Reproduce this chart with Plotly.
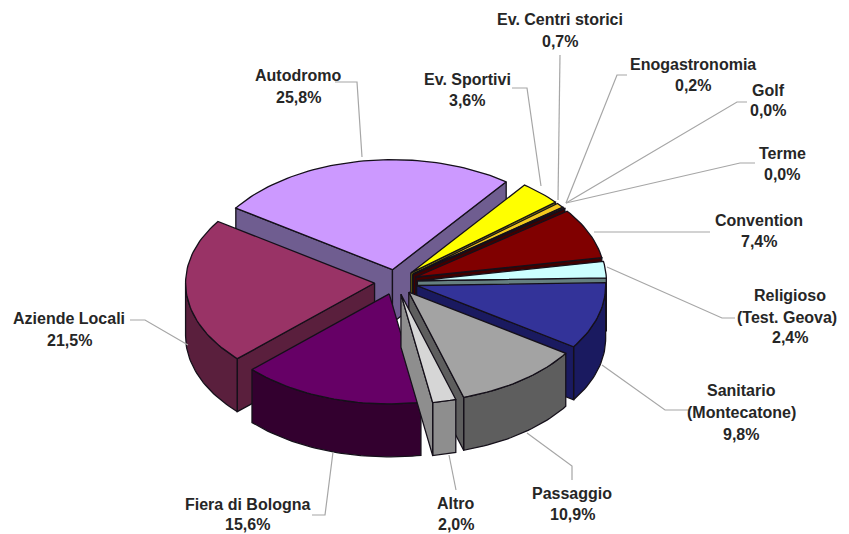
import numpy as np
import plotly.graph_objects as go

# Data
names = ["Ev. Sportivi", "Ev. Centri storici", "Enogastronomia", "Golf", "Terme", "Convention",
         "Religioso (Test. Geova)", "Sanitario (Montecatone)", "Passaggio", "Altro",
         "Fiera di Bologna", "Aziende Locali", "Autodromo"]
values = [3.6, 0.7, 0.2, 0.0, 0.0, 7.4, 2.4, 9.8, 10.9, 2.0, 15.6, 21.5, 25.8]

# Style per slice
top_colors = ["#FFFF00", "#F2C81E", "#6E3A10", "#800000", "#800000", "#800000", "#CCFFFF",
              "#333399", "#A3A3A3", "#D6D6D6", "#660066", "#993366", "#CC99FF"]
side_colors = ["#808000", "#806600", "#3A1E08", "#400000", "#400000", "#400000", "#668080",
               "#1A1A60", "#5E5E5E", "#8E8E8E", "#33002F", "#5A1F3D", "#6F5D90"]
paint_order = [12, 0, 1, 2, 3, 4, 5, 6, 7, 11, 10, 8, 9]

# Projection of the pie
cx, cy, rx, ry, depth, explode = 396, 282, 189, 110, 53, 21.5
start_deg = 37.0

fig = go.Figure()


def add_poly(xs, ys, color, lw=1.3):
    fig.add_trace(go.Scatter(x=xs, y=ys, mode="lines", fill="toself", fillcolor=color,
                             line=dict(color="#15101A", width=lw), hoverinfo="skip", showlegend=False))


total = sum(values)
bounds = start_deg + np.cumsum([0] + values) / total * 360
for i in paint_order:
    b0, b1 = bounds[i], bounds[i + 1]
    a0, a1 = np.radians(b0), np.radians(b1)
    mid = (a0 + a1) / 2
    ax = cx + explode * np.sin(mid)
    ay = cy - explode * np.cos(mid) * ry / rx
    # rim, only where it faces the viewer
    lo, hi = max(b0, 90), min(b1, 270)
    if hi > lo:
        t = np.radians(np.linspace(lo, hi, max(2, int((hi - lo) * 0.8))))
        ex = ax + rx * np.sin(t)
        ey = ay - ry * np.cos(t)
        add_poly(list(ex) + list(ex[::-1]) + [ex[0]],
                 list(ey) + list(ey[::-1] + depth) + [ey[0]], side_colors[i])
    # inner walls, only where they face the viewer
    for a, visible in ((a0, np.sin(a0) < 0), (a1, np.sin(a1) > 0)):
        if visible:
            px, py = ax + rx * np.sin(a), ay - ry * np.cos(a)
            add_poly([ax, px, px, ax, ax], [ay, py, py + depth, ay + depth, ay], side_colors[i])
    # top
    t = np.linspace(a0, a1, max(2, int((a1 - a0) * 40)))
    ex = ax + rx * np.sin(t)
    ey = ay - ry * np.cos(t)
    add_poly([ax] + list(ex) + [ax], [ay] + list(ey) + [ay], top_colors[i])

# Leader lines
leaders = [
    ([335, 357, 362], [82, 82, 157]),
    ([512, 527, 541], [88, 88, 186]),
    ([560, 558], [55, 200]),
    ([627, 617, 566], [75, 75, 203]),
    ([747, 737, 566], [102, 102, 203]),
    ([755, 740, 566], [163, 163, 203]),
    ([710, 594], [232, 232]),
    ([735, 722, 607], [318, 318, 267]),
    ([690, 665, 602], [410, 410, 365]),
    ([572, 572, 527], [480, 466, 433]),
    ([456, 449], [490, 455]),
    ([312, 325, 333], [515, 515, 452]),
    ([130, 145, 188], [320, 320, 345]),
]
for lx, ly in leaders:
    fig.add_trace(go.Scatter(x=lx, y=ly, mode="lines", line=dict(color="#A6A6A6", width=1.2),
                             hoverinfo="skip", showlegend=False))

# Text
labels = [
    ("Ev. Centri storici", 560, 19), ("0,7%", 560, 41),
    ("Enogastronomia", 693, 64), ("0,2%", 693, 85),
    ("Golf", 768, 90), ("0,0%", 768, 110),
    ("Terme", 782, 153), ("0,0%", 782, 174),
    ("Convention", 759, 220), ("7,4%", 759, 241),
    ("Religioso", 790, 295), ("(Test. Geova)", 787, 317), ("2,4%", 790, 337),
    ("Sanitario", 741, 390), ("(Montecatone)", 741, 412), ("9,8%", 741, 434),
    ("Passaggio", 572, 493), ("10,9%", 572, 514),
    ("Altro", 456, 503), ("2,0%", 456, 524),
    ("Fiera di Bologna", 247, 504), ("15,6%", 247, 524),
    ("Aziende Locali", 69, 318), ("21,5%", 69, 340),
    ("Autodromo", 298, 75), ("25,8%", 298, 97),
    ("Ev. Sportivi", 467, 79), ("3,6%", 467, 100),
]
for txt, x, y in labels:
    fig.add_annotation(x=x, y=y, text=f"<b>{txt}</b>", showarrow=False, xanchor="center", yanchor="middle",
                       font=dict(family="Liberation Sans", size=16, color="#262626"))

fig.update_layout(
    width=849, height=534, margin=dict(l=0, r=0, t=0, b=0),
    paper_bgcolor="white", plot_bgcolor="white", showlegend=False,
    xaxis=dict(range=[0, 849], visible=False, fixedrange=True),
    yaxis=dict(range=[534, 0], visible=False, fixedrange=True),
)
fig.write_html("out.html", config=dict(displayModeBar=False),
               post_script="document.body.style.margin='0';document.body.style.overflow='hidden';")
